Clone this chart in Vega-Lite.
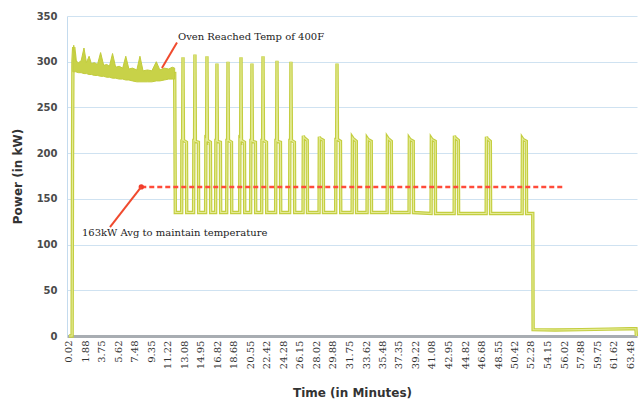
{
  "$schema": "https://vega.github.io/schema/vega-lite/v6.json",
  "width": 570,
  "height": 320,
  "autosize": {"type": "none"},
  "padding": {"left": 67, "top": 16, "right": 3, "bottom": 66},
  "background": "white",
  "config": {"view": {"stroke": null}},
  "datasets": {
    "trace": [
      {"t": 0.02, "kW": 0}, {"t": 0.38, "kW": 0}, {"t": 0.42, "kW": 181}, {"t": 0.47, "kW": 300}, {"t": 0.56, "kW": 316}, {"t": 0.8, "kW": 294}, {"t": 4, "kW": 289}, {"t": 8, "kW": 284}, {"t": 11.98, "kW": 287}, {"t": 12.05, "kW": 135},
      {"t": 12.77, "kW": 135}, {"t": 12.8, "kW": 214}, {"t": 12.88, "kW": 215}, {"t": 12.92, "kW": 305}, {"t": 12.97, "kW": 214}, {"t": 13.31, "kW": 212}, {"t": 13.34, "kW": 135},
      {"t": 14.12, "kW": 135}, {"t": 14.15, "kW": 214}, {"t": 14.23, "kW": 214}, {"t": 14.27, "kW": 308}, {"t": 14.32, "kW": 213}, {"t": 14.66, "kW": 212}, {"t": 14.69, "kW": 135},
      {"t": 15.48, "kW": 135}, {"t": 15.51, "kW": 215}, {"t": 15.59, "kW": 214}, {"t": 15.63, "kW": 306}, {"t": 15.68, "kW": 214}, {"t": 16.02, "kW": 212}, {"t": 16.05, "kW": 135},
      {"t": 16.61, "kW": 135}, {"t": 16.64, "kW": 214}, {"t": 16.72, "kW": 214}, {"t": 16.76, "kW": 298}, {"t": 16.81, "kW": 213}, {"t": 17.15, "kW": 212}, {"t": 17.18, "kW": 135},
      {"t": 17.86, "kW": 135}, {"t": 17.89, "kW": 214}, {"t": 17.97, "kW": 214}, {"t": 18.01, "kW": 300}, {"t": 18.06, "kW": 214}, {"t": 18.4, "kW": 212}, {"t": 18.43, "kW": 135},
      {"t": 19.33, "kW": 135}, {"t": 19.36, "kW": 215}, {"t": 19.44, "kW": 214}, {"t": 19.48, "kW": 305}, {"t": 19.53, "kW": 214}, {"t": 19.87, "kW": 212}, {"t": 19.9, "kW": 135},
      {"t": 20.57, "kW": 135}, {"t": 20.6, "kW": 214}, {"t": 20.68, "kW": 214}, {"t": 20.72, "kW": 298}, {"t": 20.77, "kW": 213}, {"t": 21.11, "kW": 212}, {"t": 21.14, "kW": 135},
      {"t": 21.82, "kW": 135}, {"t": 21.85, "kW": 214}, {"t": 21.93, "kW": 214}, {"t": 21.97, "kW": 306}, {"t": 22.02, "kW": 214}, {"t": 22.36, "kW": 212}, {"t": 22.39, "kW": 135},
      {"t": 23.4, "kW": 135}, {"t": 23.43, "kW": 214}, {"t": 23.51, "kW": 214}, {"t": 23.55, "kW": 301}, {"t": 23.6, "kW": 213}, {"t": 23.94, "kW": 212}, {"t": 23.97, "kW": 135},
      {"t": 24.98, "kW": 135}, {"t": 25.01, "kW": 214}, {"t": 25.09, "kW": 214}, {"t": 25.13, "kW": 300}, {"t": 25.18, "kW": 214}, {"t": 25.52, "kW": 212}, {"t": 25.55, "kW": 135},
      {"t": 26.5, "kW": 135}, {"t": 26.53, "kW": 219}, {"t": 26.6, "kW": 217}, {"t": 26.97, "kW": 214}, {"t": 27.0, "kW": 135},
      {"t": 28.31, "kW": 135}, {"t": 28.34, "kW": 218}, {"t": 28.41, "kW": 216}, {"t": 28.78, "kW": 214}, {"t": 28.81, "kW": 135},
      {"t": 30.19, "kW": 135}, {"t": 30.22, "kW": 215}, {"t": 30.3, "kW": 215}, {"t": 30.34, "kW": 298}, {"t": 30.39, "kW": 215}, {"t": 30.73, "kW": 213}, {"t": 30.76, "kW": 135},
      {"t": 32.05, "kW": 135}, {"t": 32.08, "kW": 217}, {"t": 32.15, "kW": 216}, {"t": 32.52, "kW": 213}, {"t": 32.55, "kW": 135},
      {"t": 33.74, "kW": 135}, {"t": 33.77, "kW": 216}, {"t": 33.84, "kW": 215}, {"t": 34.21, "kW": 213}, {"t": 34.24, "kW": 135},
      {"t": 36.01, "kW": 135}, {"t": 36.04, "kW": 217}, {"t": 36.11, "kW": 216}, {"t": 36.48, "kW": 213}, {"t": 36.51, "kW": 135},
      {"t": 38.49, "kW": 135}, {"t": 38.52, "kW": 216}, {"t": 38.59, "kW": 215}, {"t": 38.96, "kW": 213}, {"t": 38.99, "kW": 135},
      {"t": 40.98, "kW": 134}, {"t": 41.01, "kW": 216}, {"t": 41.08, "kW": 215}, {"t": 41.45, "kW": 213}, {"t": 41.48, "kW": 134},
      {"t": 43.59, "kW": 134}, {"t": 43.62, "kW": 219}, {"t": 43.69, "kW": 217}, {"t": 44.06, "kW": 214}, {"t": 44.09, "kW": 134},
      {"t": 47.21, "kW": 134}, {"t": 47.24, "kW": 218}, {"t": 47.31, "kW": 216}, {"t": 47.68, "kW": 213}, {"t": 47.71, "kW": 134},
      {"t": 51.28, "kW": 134}, {"t": 51.31, "kW": 216}, {"t": 51.38, "kW": 215}, {"t": 51.75, "kW": 213}, {"t": 51.78, "kW": 134},
      {"t": 52.48, "kW": 134}, {"t": 52.52, "kW": 7}, {"t": 55, "kW": 6.5}, {"t": 58, "kW": 7}, {"t": 61, "kW": 7.5}, {"t": 63.5, "kW": 8}, {"t": 64.15, "kW": 8}, {"t": 64.2, "kW": 0}
    ],
    "band": [
      {"t": 0.46, "kW": 301, "lo": 289}, {"t": 0.56, "kW": 318, "lo": 289}, {"t": 0.78, "kW": 301, "lo": 289}, {"t": 1.1, "kW": 299, "lo": 288},
      {"t": 1.4, "kW": 301, "lo": 288}, {"t": 1.72, "kW": 315, "lo": 287}, {"t": 2.0, "kW": 299, "lo": 287}, {"t": 2.3, "kW": 306, "lo": 286},
      {"t": 2.55, "kW": 298, "lo": 286}, {"t": 2.9, "kW": 299, "lo": 285}, {"t": 3.25, "kW": 297, "lo": 285}, {"t": 3.6, "kW": 310, "lo": 284},
      {"t": 3.95, "kW": 296, "lo": 284}, {"t": 4.3, "kW": 297, "lo": 283}, {"t": 4.6, "kW": 295, "lo": 283}, {"t": 4.95, "kW": 309, "lo": 282},
      {"t": 5.3, "kW": 294, "lo": 282}, {"t": 5.7, "kW": 295, "lo": 281}, {"t": 6.1, "kW": 293, "lo": 281}, {"t": 6.45, "kW": 306, "lo": 280},
      {"t": 6.8, "kW": 292, "lo": 280}, {"t": 7.2, "kW": 293, "lo": 279}, {"t": 7.7, "kW": 291, "lo": 278}, {"t": 8.05, "kW": 306, "lo": 278},
      {"t": 8.4, "kW": 290, "lo": 278}, {"t": 8.9, "kW": 291, "lo": 278}, {"t": 9.4, "kW": 290, "lo": 278}, {"t": 9.9, "kW": 300, "lo": 279},
      {"t": 10.3, "kW": 291, "lo": 279}, {"t": 10.8, "kW": 293, "lo": 280}, {"t": 11.3, "kW": 292, "lo": 281}, {"t": 11.7, "kW": 294, "lo": 281},
      {"t": 11.98, "kW": 293, "lo": 281}
    ],
    "avg": [{"t": 8.2, "t2": 56.13, "kW": 163}],
    "arrows": [
      {"t": 12.24, "kW": 321, "t2": 10.54, "kW2": 293},
      {"t": 4.66, "kW": 119, "t2": 8.2, "kW2": 163}
    ],
    "notes": [
      {"t": 12.35, "kW": 327, "label": "Oven Reached Temp of 400F"},
      {"t": 1.49, "kW": 112.5, "label": "163kW Avg to maintain temperature"}
    ]
  },
  "encoding": {
    "x": {
      "field": "t", "type": "quantitative",
      "scale": {"domain": [-0.2, 64.27], "nice": false, "zero": false},
      "title": "Time (in Minutes)",
      "axis": {
        "values": [0.02, 1.88, 3.75, 5.62, 7.48, 9.35, 11.22, 13.08, 14.95, 16.82, 18.68, 20.55, 22.42, 24.28, 26.15, 28.02, 29.88, 31.75, 33.62, 35.48, 37.35, 39.22, 41.08, 42.95, 44.82, 46.68, 48.55, 50.42, 52.28, 54.15, 56.02, 57.88, 59.75, 61.62, 63.48],
        "format": ".2f", "labelAngle": -90, "labelFont": "DejaVu Serif", "labelFontSize": 10, "labelColor": "#333333",
        "labelPadding": 4, "labelOverlap": false, "labelFlush": false, "ticks": false, "grid": false,
        "domainColor": "#a8adb2", "domainWidth": 3,
        "titleFont": "DejaVu Sans", "titleFontWeight": "bold", "titleFontSize": 12, "titleColor": "#333333", "titlePadding": 19
      }
    },
    "y": {
      "field": "kW", "type": "quantitative",
      "scale": {"domain": [0, 350], "nice": false},
      "title": "Power (in kW)",
      "axis": {
        "values": [0, 50, 100, 150, 200, 250, 300, 350],
        "labelFont": "DejaVu Sans", "labelFontWeight": "bold", "labelFontSize": 10, "labelColor": "#4a4a4a", "labelPadding": 10,
        "ticks": false, "grid": true, "gridColor": "#cfe2f1", "domainColor": "#c4dbee", "domainWidth": 1,
        "titleFont": "DejaVu Sans", "titleFontWeight": "bold", "titleFontSize": 12, "titleColor": "#333333", "titlePadding": 12
      }
    }
  },
  "layer": [
    {"data": {"name": "trace"}, "mark": {"type": "line", "color": "#c4ce40", "strokeWidth": 3.4, "interpolate": "linear"}},
    {"data": {"name": "trace"}, "mark": {"type": "line", "color": "#e4eb96", "strokeWidth": 1.1, "interpolate": "linear"}},
    {"data": {"name": "band"}, "mark": {"type": "area", "color": "#c8d248", "stroke": "#c2cc3c", "strokeWidth": 1, "opacity": 1}, "encoding": {"y2": {"field": "lo"}}},
    {"data": {"name": "avg"}, "mark": {"type": "rule", "color": "#ff4b3a", "strokeWidth": 2.5, "strokeDash": [5, 3]}, "encoding": {"x2": {"field": "t2"}}},
    {"data": {"name": "avg"}, "mark": {"type": "point", "filled": true, "color": "#f03c2c", "size": 28, "opacity": 1}},
    {"data": {"name": "arrows"}, "mark": {"type": "rule", "color": "#f04a2e", "strokeWidth": 2}, "encoding": {"x2": {"field": "t2"}, "y2": {"field": "kW2"}}},
    {"data": {"name": "notes"}, "mark": {"type": "text", "align": "left", "baseline": "middle", "font": "DejaVu Serif", "fontSize": 10, "color": "#222222"}, "encoding": {"text": {"field": "label"}}}
  ]
}
